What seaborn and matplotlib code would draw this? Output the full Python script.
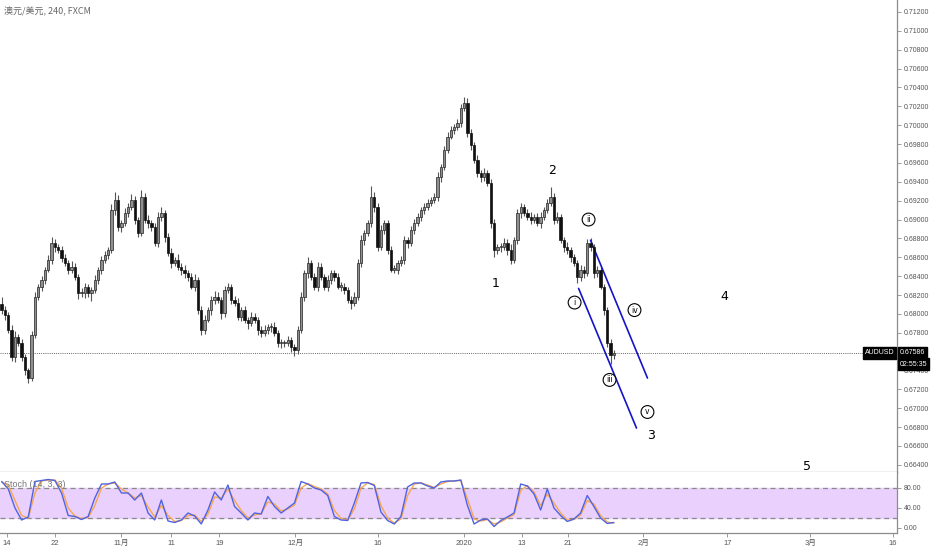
import matplotlib
matplotlib.use("Agg")
import matplotlib.pyplot as plt
import matplotlib.transforms as mtransforms
import numpy as np
import pandas as pd
import seaborn as sns

# 4h AUDUSD closes (every ~2.4 bars)
CLOSES = [
    0.6804, 0.6799, 0.6783, 0.6754, 0.6776, 0.6769, 0.6754, 0.6741, 0.6732, 0.6778,
    0.6818, 0.6829, 0.6836, 0.6847, 0.6857, 0.6875, 0.6871, 0.6868, 0.6859, 0.6854,
    0.6847, 0.6850, 0.6839, 0.6822, 0.6822, 0.6829, 0.6822, 0.6825, 0.6836, 0.6847,
    0.6857, 0.6862, 0.6868, 0.6910, 0.6921, 0.6892, 0.6896, 0.6907, 0.6913, 0.6921,
    0.6900, 0.6886, 0.6924, 0.6900, 0.6896, 0.6892, 0.6875, 0.6903, 0.6907, 0.6882,
    0.6865, 0.6854, 0.6857, 0.6850, 0.6847, 0.6843, 0.6839, 0.6829, 0.6836, 0.6804,
    0.6783, 0.6794, 0.6804, 0.6815, 0.6818, 0.6815, 0.6801, 0.6825, 0.6829, 0.6815,
    0.6812, 0.6797, 0.6804, 0.6794, 0.6790, 0.6797, 0.6794, 0.6783, 0.6780, 0.6783,
    0.6786, 0.6786, 0.6780, 0.6769, 0.6769, 0.6769, 0.6772, 0.6765, 0.6762, 0.6783,
    0.6818, 0.6843, 0.6854, 0.6839, 0.6829, 0.6850, 0.6839, 0.6829, 0.6836, 0.6843,
    0.6839, 0.6829, 0.6829, 0.6825, 0.6815, 0.6812, 0.6818, 0.6854, 0.6878, 0.6886,
    0.6896, 0.6924, 0.6913, 0.6871, 0.6889, 0.6896, 0.6868, 0.6847, 0.6847, 0.6854,
    0.6857, 0.6878, 0.6875, 0.6889, 0.6896, 0.6903, 0.6910, 0.6913, 0.6918, 0.6921,
    0.6924, 0.6945, 0.6956, 0.6974, 0.6988, 0.6995, 0.6998, 0.7002, 0.7018, 0.7024,
    0.6992, 0.6979, 0.6963, 0.6949, 0.6945, 0.6949, 0.6939, 0.6896, 0.6868, 0.6871,
    0.6871, 0.6875, 0.6868, 0.6857, 0.6878, 0.6907, 0.6913, 0.6907, 0.6903, 0.6900,
    0.6903, 0.6896, 0.6903, 0.6910, 0.6918, 0.6924, 0.6900, 0.6903, 0.6878, 0.6871,
    0.6868, 0.6860, 0.6854, 0.6839, 0.6847, 0.6843, 0.6875, 0.6871, 0.6843, 0.6847,
    0.6829, 0.6804, 0.6769, 0.6756, 0.67586,
]
FIRST_OPEN = 0.6810

# wick lengths in pips above / below the body
WICK_UP = [
    8, 4, 3, 5, 6, 3, 4, 3, 2, 4, 5, 3, 4, 3, 5, 6, 4, 3, 4, 5,
    3, 6, 4, 3, 5, 4, 3, 4, 5, 3, 4, 5, 3, 6, 8, 5, 4, 5, 4, 6,
    4, 3, 7, 4, 5, 3, 4, 5, 6, 3, 4, 5, 3, 6, 4, 5, 3, 4, 6, 3,
    4, 5, 3, 4, 6, 5, 3, 5, 4, 3, 4, 5, 3, 4, 3, 5, 4, 3, 4, 5,
    3, 4, 5, 3, 4, 3, 5, 4, 3, 4, 5, 4, 6, 3, 4, 5, 4, 3, 5, 4,
    3, 4, 5, 4, 3, 4, 5, 4, 6, 3, 4, 12, 5, 4, 5, 3, 4, 4, 5, 3,
    4, 5, 3, 4, 5, 4, 3, 5, 4, 3, 4, 5, 3, 4, 5, 4, 3, 5, 4, 6,
    5, 4, 3, 5, 4, 6, 3, 4, 5, 3, 4, 5, 4, 6, 3, 4, 5, 3, 4, 5,
    3, 4, 5, 3, 4, 10, 4, 5, 3, 4, 5, 3, 4, 3, 5, 4, 4, 5, 3, 4,
    4, 3, 3, 4, 3,
]
WICK_DN = [
    4, 5, 3, 4, 5, 3, 4, 6, 5, 3, 4, 3, 5, 4, 3, 4, 5, 3, 4, 3,
    5, 4, 3, 6, 4, 5, 4, 8, 3, 4, 5, 3, 4, 3, 5, 4, 5, 3, 4, 3,
    5, 4, 3, 4, 5, 4, 3, 4, 5, 6, 4, 5, 3, 4, 6, 5, 4, 3, 5, 4,
    5, 4, 3, 5, 4, 3, 6, 4, 3, 5, 4, 3, 5, 4, 6, 3, 4, 5, 4, 3,
    4, 5, 3, 4, 5, 4, 3, 5, 7, 4, 3, 4, 5, 3, 4, 5, 3, 4, 5, 4,
    4, 3, 5, 4, 3, 7, 4, 3, 4, 5, 3, 4, 5, 4, 3, 4, 5, 3, 4, 5,
    3, 4, 5, 3, 4, 3, 5, 4, 3, 4, 3, 4, 5, 3, 4, 3, 4, 3, 4, 3,
    4, 5, 3, 4, 5, 4, 3, 5, 8, 4, 5, 3, 6, 4, 3, 4, 5, 3, 4, 5,
    4, 3, 5, 4, 3, 4, 5, 4, 3, 5, 4, 5, 3, 6, 4, 5, 3, 4, 5, 4,
    3, 5, 4, 9, 4,
]

# Stochastic (14, 3, 3), one value every second candle
STOCH_K = [
    93, 78, 40, 16, 22, 93, 95, 97, 95, 70, 25, 23, 17, 23, 60, 88, 88, 92, 70, 70,
    56, 70, 30, 16, 56, 14, 11, 16, 30, 24, 8, 36, 72, 56, 86, 43, 30, 16, 30, 28,
    63, 43, 30, 40, 50, 93, 88, 80, 76, 65, 23, 16, 15, 50, 90, 91, 85, 32, 15, 8,
    23, 82, 90, 90, 84, 80, 92, 94, 94, 96, 45, 8, 16, 18, 3, 15, 22, 30, 88, 84,
    68, 36, 78, 40, 25, 13, 18, 30, 65, 43, 20, 9, 11,
]
STOCH_D = [
    92, 85, 55, 25, 20, 70, 94, 96, 96, 80, 40, 24, 19, 21, 45, 80, 88, 90, 78, 70,
    60, 65, 42, 22, 45, 25, 13, 15, 25, 26, 13, 28, 62, 60, 78, 55, 35, 20, 26, 29,
    52, 48, 34, 38, 46, 80, 89, 83, 78, 68, 35, 19, 16, 38, 80, 90, 87, 45, 20, 10,
    18, 65, 88, 90, 86, 81, 88, 93, 94, 95, 58, 18, 14, 17, 8, 12, 20, 27, 75, 85,
    72, 45, 68, 50, 30, 16, 17, 26, 55, 48, 25, 12, 10,
]

# date axis (candle index -> label)
TICK_POS = [1.5, 15.9, 36, 51, 65.4, 88.2, 113.1, 138.9, 156.3, 170.1, 192.9, 218.1, 243, 267.9]
TICK_LABELS = ["14", "22", "11月", "11", "19", "12月", "16", "2020", "13", "21", "2月", "17", "3月", "16"]

# Elliott wave markup
WAVE_TEXT = ["1", "2", "3", "4", "5"]
WAVE_X = [148.5, 165.3, 195.3, 217.2, 242.1]
WAVE_Y = [0.6832, 0.6952, 0.6671, 0.6818, 0.6638]
SUB_TEXT = ["i", "ii", "iii", "iv", "v"]
SUB_X = [172.2, 176.4, 182.7, 190.2, 194.1]
SUB_Y = [0.6812, 0.6900, 0.6730, 0.6804, 0.6696]
CHAN_LO_X = [173.4, 190.8]
CHAN_LO_Y = [0.6827, 0.6679]
CHAN_HI_X = [177.0, 194.1]
CHAN_HI_Y = [0.6878, 0.6732]

sns.set_style("white")
plt.rcParams["font.family"] = ["Liberation Sans", "Noto Sans CJK SC", "DejaVu Sans"]

PIP = 0.0001
df = pd.DataFrame({"close": CLOSES})
df["open"] = [FIRST_OPEN] + CLOSES[:-1]
df["high"] = df[["open", "close"]].max(axis=1) + np.array(WICK_UP) * PIP
df["low"] = df[["open", "close"]].min(axis=1) - np.array(WICK_DN) * PIP
df["x"] = np.arange(len(df))
up = df["close"] >= df["open"]

fig = plt.figure(figsize=(9.32, 5.5), dpi=100)
ax = fig.add_axes([0, 78 / 550, 897 / 932, 472 / 550])
ax2 = fig.add_axes([0, 17 / 550, 897 / 932, 61 / 550], sharex=ax)

GRID = "#8c8c8c"
TXT = "#555555"

# candles
ax.vlines(df["x"], df["low"], df["high"], color="#555555", lw=0.8, zorder=2)
body = (df["close"] - df["open"]).abs().clip(lower=0.00012)
bottom = df[["open", "close"]].min(axis=1)
ax.bar(df["x"][up], body[up], bottom=bottom[up], width=0.7, color="#8f8f8f",
       edgecolor="#222222", linewidth=0.5, zorder=3)
ax.bar(df["x"][~up], body[~up], bottom=bottom[~up], width=0.7, color="#111111",
       edgecolor="#111111", linewidth=0.5, zorder=3)

last = CLOSES[-1]
ax.axhline(last, color="#666666", lw=0.7, ls=(0, (1, 1.2)), zorder=1)

ax.set_xlim(-0.5, 269.1)
ax.set_ylim(0.66324, 0.71327)
yt = np.arange(0.664, 0.7125, 0.002)
ax.yaxis.tick_right()
ax.set_yticks(yt)
ax.set_yticklabels([f"{t:.5f}" for t in yt])
ax.tick_params(axis="y", length=3, width=0.6, color=GRID, labelsize=5, labelcolor=TXT, pad=2, right=True)
ax.tick_params(axis="x", bottom=False, labelbottom=False)
for s in ["top", "left"]:
    ax.spines[s].set_visible(False)
for s in ["bottom", "right"]:
    ax.spines[s].set_color(GRID)
    ax.spines[s].set_linewidth(0.9)

# wave labels and channel
for t, x, y in zip(WAVE_TEXT, WAVE_X, WAVE_Y):
    ax.text(x, y, t, fontsize=9, ha="center", va="center", color="black", family="DejaVu Sans")
for t, x, y in zip(SUB_TEXT, SUB_X, SUB_Y):
    ax.text(x, y, t, fontsize=5.5, ha="center", va="center", color="black", family="DejaVu Sans",
            bbox=dict(boxstyle="circle,pad=0.25", fc="white", ec="black", lw=0.8))
ax.plot(CHAN_LO_X, CHAN_LO_Y, color="#1414c8", lw=1.2)
ax.plot(CHAN_HI_X, CHAN_HI_Y, color="#1414c8", lw=1.2)

# price labels
blend = mtransforms.blended_transform_factory(ax.transAxes, ax.transData)
box = dict(boxstyle="square,pad=0.3", fc="black", ec="black")
ax.text(1.003, last, f"{last:.5f}", transform=blend, ha="left", va="center", fontsize=5,
        color="white", bbox=box, clip_on=False, zorder=10)
ax.text(0.997, last, "AUDUSD", transform=blend, ha="right", va="center", fontsize=5,
        color="white", bbox=box, clip_on=False, zorder=10)
ax.annotate("02:55:35", xy=(1.003, last), xycoords=blend, xytext=(0, -8), textcoords="offset points",
            ha="left", va="center", fontsize=5, color="white", bbox=box,
            annotation_clip=False, zorder=10)

ax.text(0.005, 0.975, "澳元/美元, 240, FXCM", transform=ax.transAxes, fontsize=6.5, color="#666666",
        ha="left", va="center", family=["Noto Sans CJK SC", "DejaVu Sans"])

# stochastic panel
sx = np.arange(len(STOCH_K)) * 2
ax2.axhspan(20, 80, color="#ead0fc", zorder=0)
ax2.axhline(80, color="#8a8a8a", lw=0.9, ls=(0, (4, 3)))
ax2.axhline(20, color="#8a8a8a", lw=0.9, ls=(0, (4, 3)))
sns.lineplot(x=sx, y=STOCH_D, ax=ax2, color="#f7a64f", lw=1.0)
sns.lineplot(x=sx, y=STOCH_K, ax=ax2, color="#4f63e3", lw=1.0)
ax2.set_ylim(-10, 112)
ax2.yaxis.tick_right()
ax2.set_yticks([0, 40, 80])
ax2.set_yticklabels(["0.00", "40.00", "80.00"])
ax2.tick_params(axis="y", length=3, width=0.6, color=GRID, labelsize=5, labelcolor=TXT, pad=2, right=True)
ax2.set_xticks(TICK_POS)
ax2.set_xticklabels(TICK_LABELS)
ax2.tick_params(axis="x", length=3, width=0.6, color=GRID, labelsize=5.5, labelcolor=TXT, pad=2, bottom=True)
ax2.text(0.004, 0.79, "Stoch (14, 3, 3)", transform=ax2.transAxes, fontsize=6.5, color="#777777",
         ha="left", va="center")
for s in ["top", "left"]:
    ax2.spines[s].set_visible(False)
for s in ["bottom", "right"]:
    ax2.spines[s].set_color(GRID)
    ax2.spines[s].set_linewidth(0.9)

fig.savefig("out.png", dpi=100, facecolor="white")
